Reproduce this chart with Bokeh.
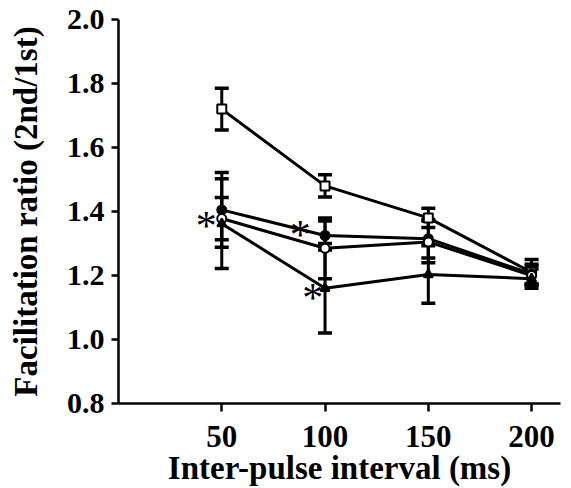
from bokeh.plotting import figure
from bokeh.models import ColumnDataSource, Whisker, TeeHead, Range1d, FixedTicker, CustomJSTickFormatter
from bokeh.core.properties import value
from bokeh.embed import file_html
from bokeh.resources import INLINE

intervals = [50, 100, 150, 200]
sq_mean = [1.72, 1.48, 1.38, 1.21]
sq_err = [0.065, 0.035, 0.03, 0.04]
fc_mean = [1.405, 1.325, 1.315, 1.205]
fc_err = [0.117, 0.045, 0.06, 0.03]
oc_mean = [1.378, 1.285, 1.305, 1.20]
oc_err = [0.066, 0.095, 0.065, 0.03]
tr_mean = [1.362, 1.16, 1.203, 1.19]
tr_err = [0.14, 0.14, 0.09, 0.03]

star_x = [42.5, 88.0, 94.0]
star_y = [1.355, 1.328, 1.13]

FONT = "Liberation Serif"

p = figure(frame_width=442, frame_height=384, output_backend="svg", toolbar_location=None,
           x_range=Range1d(0, 214), y_range=Range1d(0.8, 2.0),
           min_border_left=118, min_border_top=19, min_border_bottom=0, min_border_right=3)
p.outline_line_color = None
p.xgrid.visible = False
p.ygrid.visible = False
p.background_fill_color = "white"

series = [
    (sq_mean, sq_err, "square", "white"),
    (fc_mean, fc_err, "circle", "black"),
    (oc_mean, oc_err, "circle", "white"),
    (tr_mean, tr_err, "triangle", "black"),
]

for mean, err, marker, fill in series:
    src = ColumnDataSource(dict(
        x=intervals, y=mean,
        lo=[m - e for m, e in zip(mean, err)],
        hi=[m + e for m, e in zip(mean, err)]))
    p.line("x", "y", source=src, line_color="black", line_width=3)
    w = Whisker(base="x", lower="lo", upper="hi", source=src,
                line_color="black", line_width=3,
                upper_head=TeeHead(size=14, line_width=3.5, line_color="black"),
                lower_head=TeeHead(size=14, line_width=3.5, line_color="black"))
    p.add_layout(w)
    p.scatter("x", "y", source=src, marker=marker, size=9,
              fill_color=fill, line_color="black", line_width=2)

p.text(x=star_x, y=star_y, text=["*", "*", "*"], text_font=value(FONT),
       text_font_size="42px", text_align="center", text_baseline="middle",
       text_color="black")

for ax in (p.xaxis[0], p.yaxis[0]):
    ax.axis_line_width = 2.5
    ax.major_tick_line_width = 2.5
    ax.minor_tick_line_color = None
    ax.major_tick_in = 0
    ax.major_label_text_font = FONT
    ax.major_label_text_font_style = "bold"
    ax.major_label_text_color = "black"
    ax.axis_label_text_font = FONT
    ax.axis_label_text_font_style = "bold"
    ax.axis_label_text_color = "black"

p.xaxis.ticker = FixedTicker(ticks=intervals)
p.xaxis.major_tick_out = 8
p.xaxis.major_label_standoff = 14
p.xaxis.major_label_text_font_size = "31px"
p.xaxis.axis_label = "Inter-pulse interval (ms)"
p.xaxis.axis_label_text_font_size = "33px"
p.xaxis.axis_label_standoff = 0

p.yaxis.ticker = FixedTicker(ticks=[0.8, 1.0, 1.2, 1.4, 1.6, 1.8, 2.0])
p.yaxis.major_tick_out = 7
p.yaxis.major_label_standoff = 7
p.yaxis.major_label_text_font_size = "30px"
p.yaxis.axis_label = "Facilitation ratio (2nd/1st)"
p.yaxis.axis_label_text_font_size = "33px"
p.yaxis.axis_label_standoff = 20
p.yaxis.formatter = CustomJSTickFormatter(code="return tick.toFixed(1);")

open("out.html", "w").write(file_html(p, INLINE))
